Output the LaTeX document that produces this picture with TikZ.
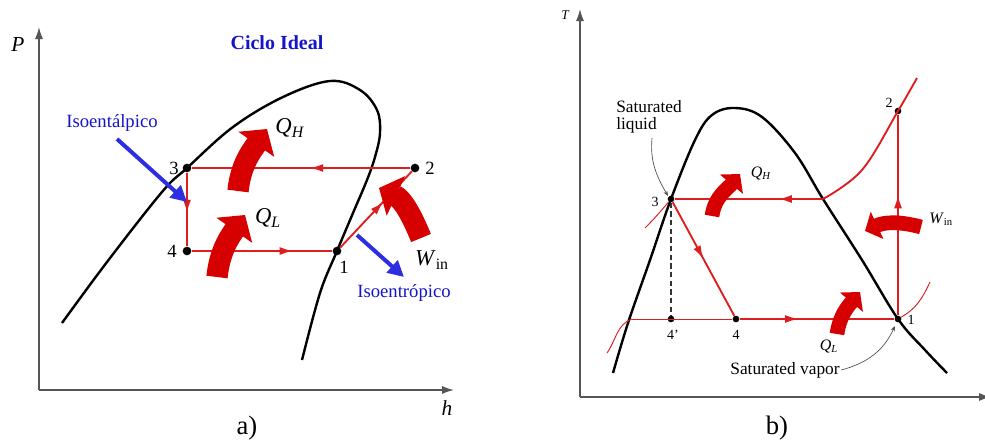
\documentclass[tikz,border=0pt]{standalone}
\usepackage{fontspec}
\setmainfont{Liberation Serif}
\usetikzlibrary{arrows.meta,decorations.markings}
\definecolor{cred}{RGB}{215,0,0}
\definecolor{lred}{RGB}{222,30,30}
\definecolor{cblue}{RGB}{45,45,225}
\definecolor{tblue}{RGB}{20,20,200}
\definecolor{axisgray}{RGB}{85,85,85}
\newcommand{\fs}[1]{\fontsize{#1}{#1}\selectfont}
\begin{document}
\begin{tikzpicture}[x=0.75pt,y=-0.75pt,
  dome/.style={line width=1.8pt, black},
  cyc/.style={line width=1.4pt, lred},
  thinred/.style={line width=0.7pt, lred},
  axisline/.style={line width=1.1pt, axisgray, -{Latex[length=9pt,width=6pt]}},
  dot/.style={circle, fill=black, inner sep=0pt, minimum size=6.5pt},
  sdot/.style={circle, fill=black, inner sep=0pt, minimum size=5pt},
  midarrow/.style={postaction={decorate}, decoration={markings, mark=at position #1 with {\arrow{Latex[length=10pt,width=6pt]}}}},
  midarrow/.default=0.5,
  bigA/.style={cred, line width=16pt, -{Triangle[length=14pt,width=32pt]}},
  bigB/.style={cred, line width=11pt, -{Triangle[length=10pt,width=22pt]}},
  bluearrow/.style={cblue, line width=3pt, -{Triangle[length=12pt,width=12pt]}},
  grayarrow/.style={black!70, line width=0.5pt, -{Stealth[length=4pt,width=3pt]}},
  lbla/.style={font=\fs{14}},
  lblb/.style={font=\fs{10.5}},
  bluetext/.style={tblue, font=\fs{14}},
]
\useasboundingbox (0,0) rectangle (985,443);

% ================= panel a =================
\coordinate (aO) at (39,390);
\coordinate (aPtop) at (39,27);
\coordinate (ahend) at (454,390);
\draw[axisline] (aO) -- (aPtop);
\draw[axisline] (aO) -- (ahend);
\node[font=\fs{16}\itshape] (aP) at (18,45) {P};
\node[font=\fs{16}\itshape] (ah) at (447,408) {h};
\node[font=\fs{20}] (alab) at (247,428) {a)};
\node[tblue, font=\fs{15}\bfseries] (atitle) at (277,43) {Ciclo Ideal};

\draw[dome] plot[smooth, tension=0.6] coordinates {(62,323) (107,262) (162,192) (187,168) (233,127) (283,97) (330,81) (360,90) (377,110) (380,133) (375,157) (367,180) (353,213) (337,251) (320,293) (302,360)};

\node[dot] (a1) at (337,251) {};
\node[dot] (a2) at (415,168) {};
\node[dot] (a3) at (187,168) {};
\node[dot] (a4) at (187,251) {};
\node[lbla] (a1l) at (344,267) {1};
\node[lbla] (a2l) at (430,168) {2};
\node[lbla] (a3l) at (174,168) {3};
\node[lbla] (a4l) at (172,251) {4};

\draw[cyc, midarrow=0.46] (a2) -- (a3);
\draw[cyc, midarrow=0.55] (a3) -- (a4);
\draw[cyc, midarrow=0.72] (a4) -- (a1);
\draw[cyc, midarrow=0.6] (a1) -- (a2);

\coordinate (aQHb) at (238,191);
\coordinate (aQHt) at (267,129);
\coordinate (aQLb) at (217,277);
\coordinate (aQLt) at (245,215);
\coordinate (aWb) at (421,238);
\coordinate (aWt) at (379,188);
\draw[bigA] (aQHb) to[out=84, in=235] (aQHt);
\draw[bigA] (aQLb) to[out=84, in=235] (aQLt);
\draw[bigA] (aWb) to[out=112, in=-25] (aWt);
\node[font=\fs{17}] (aQH) at (290,128) {\textit{Q}\textsubscript{\textit{H}}};
\node[font=\fs{17}] (aQL) at (268,218) {\textit{Q}\textsubscript{\textit{L}}};
\node[font=\fs{17}] (aW) at (432,260) {\textit{W}\textsubscript{in}};

\node[bluetext] (aiso1) at (112,123) {Isoentálpico};
\node[bluetext] (aiso2) at (404,293) {Isoentrópico};
\coordinate (ab1s) at (117,139);
\coordinate (ab1e) at (187,202);
\coordinate (ab2s) at (357,235);
\coordinate (ab2e) at (404,277);
\draw[bluearrow] (ab1s) -- (ab1e);
\draw[bluearrow] (ab2s) -- (ab2e);

% ================= panel b =================
\coordinate (bO) at (580,397);
\coordinate (bTtop) at (580,9);
\coordinate (bsend) at (991,397);
\draw[axisline] (bO) -- (bTtop);
\draw[axisline] (bO) -- (bsend);
\node[font=\fs{10}\itshape] (bT) at (565,15) {T};
\node[font=\fs{20}] (blab) at (777,428) {b)};

\draw[dome] plot[smooth, tension=0.6] coordinates {(613,373) (628,323) (650,260) (671,199) (695,140) (712,115) (735,108) (762,117) (795,153) (823,199) (862,260) (898,319) (925,350) (947,373)};

\node[sdot] (b1) at (898,319) {};
\node[sdot] (b2) at (898,111) {};
\node[sdot] (b3) at (671,199) {};
\node[sdot] (b4) at (736,319) {};
\node[sdot] (b4p) at (671,319) {};
\coordinate (bsat) at (823,199);
\coordinate (bliq) at (632,319);

\node[lblb] (b1l) at (911,320) {1};
\node[lblb] (b2l) at (889,103) {2};
\node[lblb] (b3l) at (655,202) {3};
\node[lblb] (b4l) at (736,335) {4};
\node[lblb] (b4pl) at (673,335) {4'};

\draw[thinred] (bliq) -- (b4);
\draw[thinred] (607,353) to[out=55, in=200] (bliq);
\draw[thinred] (645,228) to[out=45, in=230] (b3);
\draw[thinred] (b1) to[out=30, in=-115] (930,282);
\draw[cyc] plot[smooth, tension=0.6] coordinates {(823,199) (862,170) (898,111) (917,78)};
\draw[cyc, midarrow=0.3] (bsat) -- (b3);
\draw[cyc, midarrow=0.5] (b3) -- (b4);
\draw[cyc, midarrow=0.38] (b4) -- (b1);
\draw[cyc, midarrow=0.6] (b1) -- (b2);
\draw[black!80, line width=0.8pt, dash pattern=on 4pt off 2.5pt] (b3) -- (b4p);

\coordinate (bQHb) at (712,216);
\coordinate (bQHt) at (740,174);
\coordinate (bQLb) at (837,334);
\coordinate (bQLt) at (860,292);
\coordinate (bWb) at (921,227);
\coordinate (bWt) at (865,231);
\draw[bigB] (bQHb) to[out=82, in=230] (bQHt);
\draw[bigB] (bQLb) to[out=82, in=230] (bQLt);
\draw[bigB] (bWb) to[out=165, in=25] (bWt);
\node[font=\fs{12}] (bQH) at (761,173) {\textit{Q}\textsubscript{\textit{H}}};
\node[font=\fs{12}] (bQL) at (829,346) {\textit{Q}\textsubscript{\textit{L}}};
\node[font=\fs{12}] (bW) at (941,219) {\textit{W}\textsubscript{in}};

\node[font=\fs{13}, align=left, anchor=west, inner sep=0pt] (bsl) at (616,117) {Saturated\\liquid};
\node[font=\fs{13}, inner sep=1pt] (bsv) at (785,370) {Saturated vapor};
\draw[grayarrow] (652,138) to[out=-95, in=120] (668,196);
\draw[grayarrow] (bsv.east) to[out=15, in=-115] (895,326);
\end{tikzpicture}
\end{document}
